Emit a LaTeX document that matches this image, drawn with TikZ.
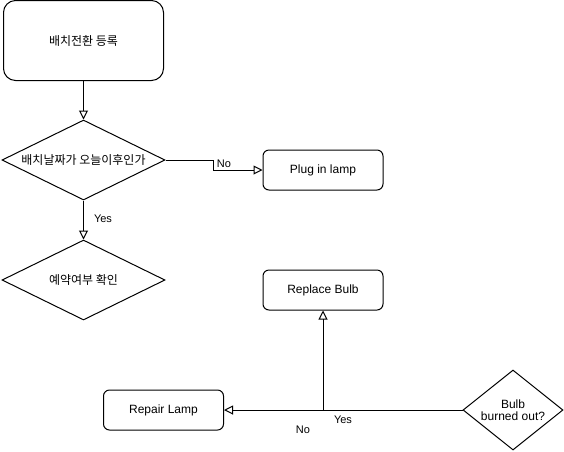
\documentclass[tikz,border=0pt]{standalone}
\usepackage{fontspec}
\setmainfont{Liberation Sans}
\newfontfamily\kofont{Noto Sans CJK KR}
\usetikzlibrary{arrows.meta,shapes.geometric}
\tikzset{
	box/.style={draw, rounded corners=6, minimum width=120, minimum height=40, inner sep=0},
	bigbox/.style={box, rounded corners=12, minimum width=160, minimum height=80},
	decision/.style={draw, diamond, inner sep=0, minimum width=163, minimum height=80},
	flow/.style={-{Triangle[open,length=9,width=9]}},
	lbl/.style={inner sep=0, font=\fontsize{11}{13}\selectfont},
}

\begin{document}
\begin{tikzpicture}[x=1pt, y=-1pt, line width=1pt, font=\fontsize{12}{14}\selectfont]
			%%%%% START %%%%%
			
			\useasboundingbox (0, 0) rectangle (564, 451);
			
			\node[bigbox] (reg) at (83.5, 40.5) {\kofont 배치전환 등록};
			\node[decision] (date) at (83.5, 160) {\makebox[0pt]{\kofont 배치날짜가 오늘이후인가}};
			\node[box] (plug) at (323, 170) {Plug in lamp};
			\node[decision] (resv) at (83.5, 280) {\makebox[0pt]{\kofont 예약여부 확인}};
			
			\node[box] (replace) at (323, 290) {Replace Bulb};
			\node[box] (repair) at (163.5, 410) {Repair Lamp};
			\node[decision, minimum width=100] (bulb) at (513, 410) {\makebox[0pt]{\shortstack{Bulb\\burned out?}}};
			
			\draw[flow] (reg) -- (date);
			\draw[flow] (date.east) -- ++(48, 0) |- (plug.west);
			\draw[flow] (date) -- (resv);
			
			\draw[flow] (bulb.west) -- (repair.east);
			\draw[flow] (bulb.west) -| (replace.south);
			
			\node[lbl] (no1) at (224, 164) {No};
			\node[lbl] (yes1) at (103, 219) {Yes};
			\node[lbl] (yes2) at (343, 420) {Yes};
			\node[lbl] (no2) at (303, 430) {No};
			
			%%%%% END %%%%%
		\end{tikzpicture}
\end{document}
